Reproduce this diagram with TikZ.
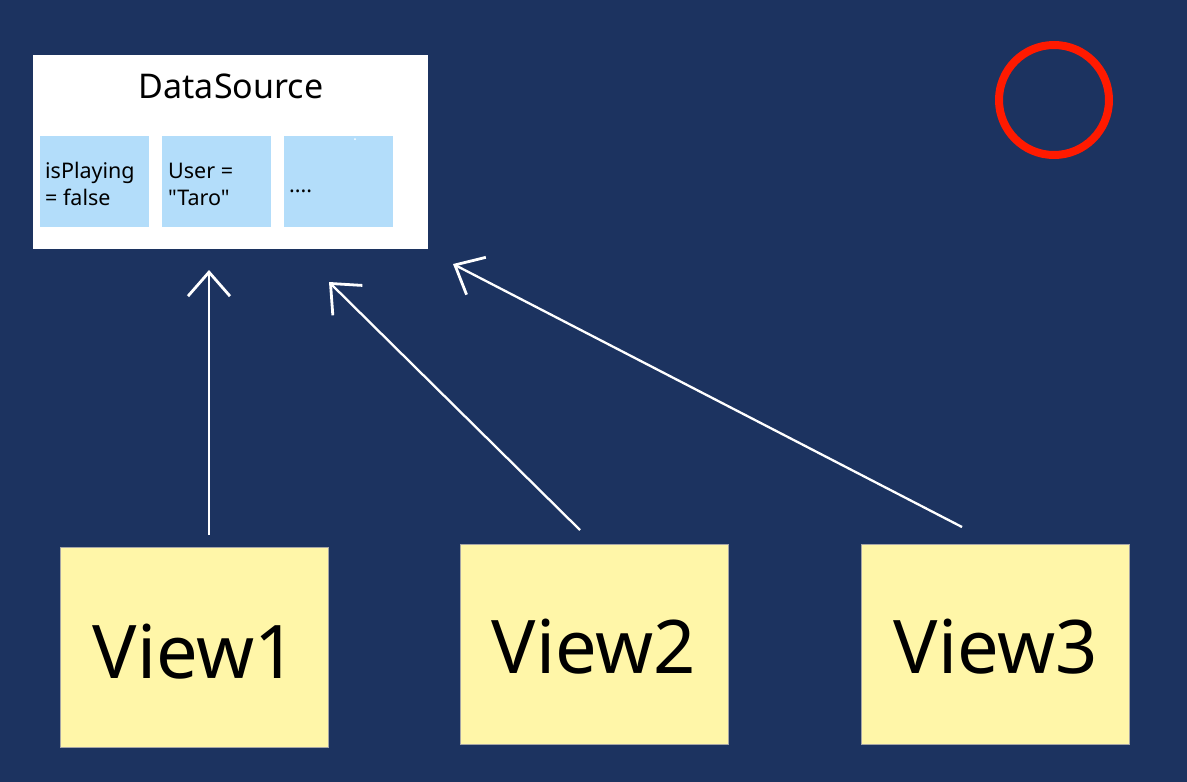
\documentclass[tikz,border=0pt]{standalone}
\usepackage{fontspec}
\setmainfont{Noto Sans}[Ligatures=TeXOff]
\usetikzlibrary{arrows.meta}
\definecolor{bg}{HTML}{1C3360}
\definecolor{cell}{HTML}{B3DDFA}
\definecolor{note}{HTML}{FFF6A8}
\definecolor{ring}{HTML}{FF1A00}
\begin{document}
\begin{tikzpicture}[x=1pt,y=-1pt,
 cellbox/.style={fill=cell, minimum width=109pt, minimum height=91pt, anchor=north west, inner sep=0pt},
 celltext/.style={anchor=base west, align=left, inner sep=0pt, font=\fontsize{21.5}{27}\selectfont},
 viewbox/.style={fill=note, draw=gray!70, line width=0.6pt, minimum width=268pt, minimum height=200pt, anchor=north west, inner sep=0pt},
 viewtext/.style={anchor=base, inner sep=0pt, font=\fontsize{74}{80}\selectfont},
 link/.style={draw=white, line width=2.3pt, -{Straight Barb[length=24pt,width=42pt,line width=2.8pt]}}
]
\useasboundingbox (0,0) rectangle (1187,782);
\fill[bg] (0,0) rectangle (1187,782);
% DataSource box
\node[fill=white, minimum width=395pt, minimum height=194pt, anchor=north west, inner sep=0pt] (ds) at (33,55) {};
\node[anchor=base, inner sep=0pt, font=\fontsize{34}{40}\selectfont] (title) at (231,98) {DataSource};
\node[cellbox] (c1) at (40,136) {};
\node[cellbox] (c2) at (162,136) {};
\node[cellbox] (c3) at (284,136) {};
\node[celltext] (t1) at (45,205) {isPlaying\\= false};
\node[celltext] (t2) at (168,205) {User =\\"Taro"};
\node[celltext] (t3) at (289,192) {....};
\fill[white] (355,139) circle (1pt);
% red ring
\draw[ring, line width=8pt] (1054,100) circle (55pt);
% views
\node[viewbox] (v1) at (60,547) {};
\node[viewbox] (v2) at (460,544) {};
\node[viewbox] (v3) at (861,544) {};
\node[viewtext] (vt1) at (195,678) {View1};
\node[viewtext] (vt2) at (594,673) {View2};
\node[viewtext] (vt3) at (996,673) {View3};
% arrows
\coordinate (s1) at (209,535);
\coordinate (e1) at (209,270);
\coordinate (s2) at (580,530);
\coordinate (e2) at (329,282);
\coordinate (s3) at (962,527);
\coordinate (e3) at (453,264);
\draw[link] (s1) -- (e1);
\draw[link] (s2) -- (e2);
\draw[link] (s3) -- (e3);
\end{tikzpicture}
\end{document}
